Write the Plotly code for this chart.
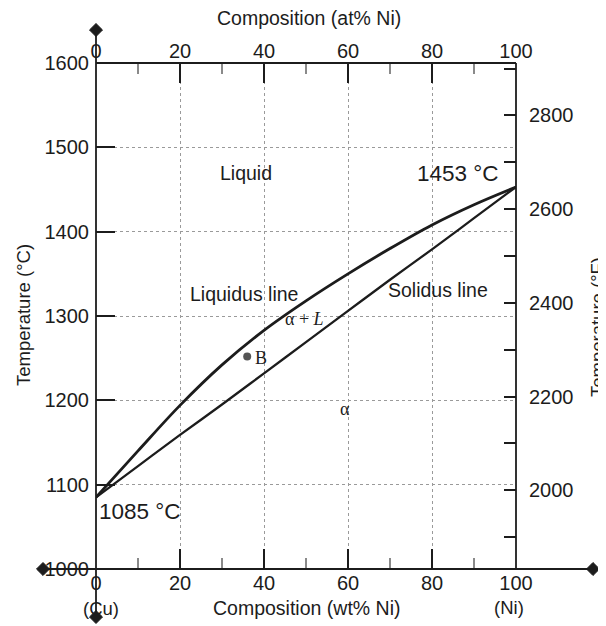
import plotly.graph_objects as go

# ---------------- data ----------------
wt_ni = [0, 10, 20, 30, 40, 50, 60, 70, 80, 90, 100]
liquidus_c = [1085, 1140, 1194, 1242, 1283, 1318, 1350, 1380, 1408, 1432, 1453]
solidus_c = [1085, 1122, 1159, 1195, 1232, 1269, 1306, 1343, 1379, 1416, 1453]

point_b_wt = [36]
point_b_c = [1252]

x_ticks = [0, 20, 40, 60, 80, 100]
c_ticks = [1000, 1100, 1200, 1300, 1400, 1500, 1600]
f_ticks = [2000, 2200, 2400, 2600, 2800]
c_range = [1000, 1600]
f_range = [c * 1.8 + 32 for c in c_range]

# region labels (wt% Ni, °C)
region_labels = [
    ("Liquid", 35.8, 1469, "sans"),
    ("1453 °C", 86.2, 1469, "sans_big"),
    ("Liquidus line", 35.3, 1326, "sans"),
    ("Solidus line", 81.4, 1331, "sans"),
    ("α + <i>L</i>", 49.6, 1296, "serif"),
    ("B", 39.3, 1250, "serif"),
    ("α", 59.4, 1190, "serif"),
    ("1085 °C", 10.5, 1068, "sans_big"),
]

# ---------------- layout geometry ----------------
OFF = 8                      # page body margin
W, H = 606 - OFF, 626 - OFF
L, T = 96 - OFF, 63 - OFF
R = W - (516 - OFF)
B = H - (569 - OFF)
PW, PH = W - L - R, H - T - B

def px(xp):                  # page pixel x -> paper
    return (xp - OFF - L) / PW

def py(yp):                  # page pixel y -> paper
    return (H - B - (yp - OFF)) / PH

SANS = "Liberation Sans, Arial, sans-serif"
SERIF = "Liberation Serif, Times New Roman, serif"
INK = "#1c1c1c"

fig = go.Figure()

fig.add_trace(go.Scatter(x=wt_ni, y=liquidus_c, mode="lines", line=dict(color=INK, width=2.8, shape="spline"),
                         name="Liquidus", showlegend=False, hoverinfo="skip"))
fig.add_trace(go.Scatter(x=wt_ni, y=solidus_c, mode="lines", line=dict(color=INK, width=2.3, shape="spline"),
                         name="Solidus", showlegend=False, hoverinfo="skip"))
fig.add_trace(go.Scatter(x=point_b_wt, y=point_b_c, mode="markers", marker=dict(color="#555", size=8),
                         showlegend=False, hoverinfo="skip"))
# dummy traces to activate secondary axes
fig.add_trace(go.Scatter(x=[None], y=[None], xaxis="x2", yaxis="y", showlegend=False))
fig.add_trace(go.Scatter(x=[None], y=[None], xaxis="x", yaxis="y2", showlegend=False))

tickfont = dict(family=SANS, size=20, color=INK)
minor_grey = "#8a8a8a"

fig.update_layout(
    width=W, height=H,
    margin=dict(l=L, r=R, t=T, b=B, autoexpand=False),
    plot_bgcolor="white", paper_bgcolor="white",
    showlegend=False,
    xaxis=dict(range=[0, 100], tickvals=x_ticks, ticks="inside", ticklen=20, tickwidth=1.5, tickcolor=INK,
               showline=False, zeroline=False, showgrid=True, gridcolor="#9a9a9a", griddash="dot", gridwidth=1,
               tickfont=tickfont,
               minor=dict(dtick=10, ticks="inside", ticklen=11, tickwidth=1.5, tickcolor=minor_grey, showgrid=False)),
    xaxis2=dict(range=[0, 100], tickvals=x_ticks, overlaying="x", side="top", anchor="y",
                ticks="inside", ticklen=20, tickwidth=1.5, tickcolor=INK, showline=False, showgrid=False,
                zeroline=False, tickfont=tickfont,
                minor=dict(dtick=10, ticks="inside", ticklen=11, tickwidth=1.5, tickcolor=minor_grey)),
    yaxis=dict(range=c_range, tickvals=c_ticks, ticks="inside", ticklen=19, tickwidth=1.5, tickcolor=INK,
               showline=False, zeroline=False, showgrid=True, gridcolor="#9a9a9a", griddash="dot", gridwidth=1,
               tickfont=tickfont, ticklabelstandoff=6),
    yaxis2=dict(range=f_range, tickvals=f_ticks, overlaying="y", side="right", anchor="x",
                ticks="inside", ticklen=12, tickwidth=1.5, tickcolor=INK, showline=False, showgrid=False,
                zeroline=False, tickfont=tickfont, ticklabelstandoff=12,
                minor=dict(dtick=100, ticks="inside", ticklen=12, tickwidth=1.5, tickcolor=INK)),
)

# axis frame lines (left and bottom extend beyond the plot like arrows)
line_style = dict(color=INK, width=1.8)
fig.add_shape(type="line", xref="paper", yref="paper", x0=px(96), x1=px(96), y0=py(30), y1=py(617), line=line_style)
fig.add_shape(type="line", xref="paper", yref="paper", x0=px(43), x1=px(593), y0=0, y1=0, line=line_style)
fig.add_shape(type="line", xref="paper", yref="paper", x0=0, x1=1, y0=1, y1=1, line=line_style)
fig.add_shape(type="line", xref="paper", yref="paper", x0=1, x1=1, y0=0, y1=1, line=line_style)

# diamond heads
def diamond(cx, cy, r=6.5):
    pts = [(cx, cy - r), (cx + r, cy), (cx, cy + r), (cx - r, cy)]
    path = "M " + " L ".join(f"{px(a):.5f},{py(b):.5f}" for a, b in pts) + " Z"
    fig.add_shape(type="path", xref="paper", yref="paper", path=path, fillcolor=INK, line=dict(color=INK, width=1))

diamond(96, 30)
diamond(43, 569)
diamond(593, 569)
diamond(96, 617)

# region labels
fonts = {
    "sans": dict(family=SANS, size=19.5, color=INK),
    "sans_big": dict(family=SANS, size=22.5, color=INK),
    "serif": dict(family=SERIF, size=18, color=INK),
}
for text, x, y, f in region_labels:
    fig.add_annotation(x=x, y=y, xref="x", yref="y", text=text, showarrow=False, font=fonts[f],
                       xanchor="center", yanchor="middle")

# axis titles
def title(text, xp, yp, size, angle=0):
    fig.add_annotation(x=px(xp), y=py(yp), xref="paper", yref="paper", text=text, showarrow=False,
                       font=dict(family=SANS, size=size, color=INK), textangle=angle,
                       xanchor="center", yanchor="middle")

title("Composition (at% Ni)", 309, 18, 19.5)
title("Composition (wt% Ni)", 306, 608, 19.5)
title("(Cu)", 101, 608, 18.5)
title("(Ni)", 509, 607, 18.5)
title("Temperature (°C)", 23, 315, 18.5, -90)
title("Temperature (°F)", 597, 327, 18.5, -90)

fig.write_html("out.html")
